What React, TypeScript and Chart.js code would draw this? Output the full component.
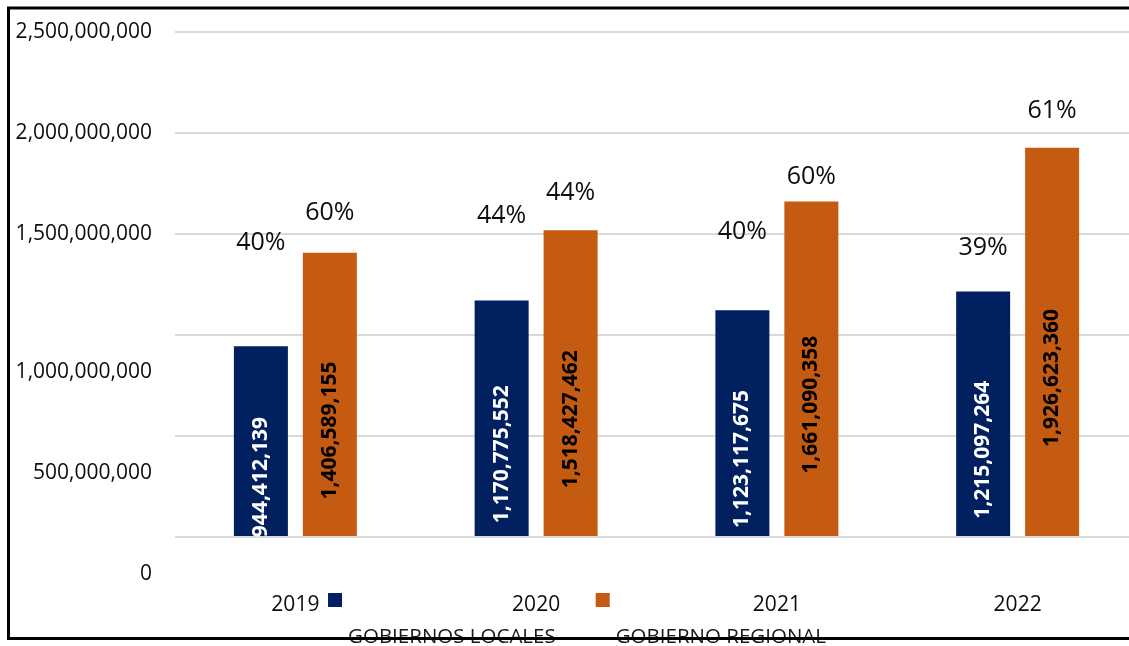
import React, { useEffect, useRef } from 'react';
import { Chart, registerables } from 'chart.js';

Chart.register(...registerables);

// ---------- data ----------
const years = ['2019', '2020', '2021', '2022'];
const seriesNames = ['GOBIERNOS LOCALES', 'GOBIERNO REGIONAL'];
const gobiernosLocales = [944412139, 1170775552, 1123117675, 1215097264];
const gobiernoRegional = [1406589155, 1518427462, 1661090358, 1926623360];
const pctLocales = ['40%', '44%', '40%', '39%'];
const pctRegional = ['60%', '44%', '60%', '61%'];
const yTickValues = [0, 500000000, 1000000000, 1500000000, 2000000000, 2500000000];

// ---------- styles / layout ----------
const COLORS = ['#002060', '#C55A11'];
const LABEL_COLORS = ['#ffffff', '#000000'];
const FONT = "'Open Sans', 'DejaVu Sans', sans-serif";
const TEXT = '#0d0d0d';
const VIEW_W = 1129;
const VIEW_H = 646;
const CANVAS_W = 1140; // plot runs slightly past the visible page, as in the original
const Y_LABEL_SHIFT = 37; // lower tick labels sit below their gridlines in the original
const BAR_LABEL_SHIFT = 36;
const LEGEND_TEXT_SHIFT = 37;
const LEGEND_CENTER = 577;
const PCT_LIFT = [
  [103, 85, 78, 44],
  [40, 37, 25, 37],
];

const fmt = (v: number) => v.toLocaleString('en-US');

const decorPlugin = {
  id: 'decor',
  afterDatasetsDraw(chart: any) {
    const { ctx, chartArea, scales } = chart;
    const ys = scales.y;
    const xs = scales.x;
    ctx.save();

    // y labels
    ctx.fillStyle = TEXT;
    ctx.font = `21px ${FONT}`;
    ctx.textAlign = 'right';
    ctx.textBaseline = 'middle';
    yTickValues.forEach((v) => {
      const y = ys.getPixelForValue(v) + (v < 1500000000 ? Y_LABEL_SHIFT : 0);
      ctx.fillText(fmt(v), chartArea.left - 23, y);
    });

    // x labels
    ctx.textAlign = 'center';
    ctx.font = `21px ${FONT}`;
    years.forEach((yr, i) => {
      ctx.fillText(yr, xs.getPixelForValue(i), chartArea.bottom + 68);
    });

    // bar value labels (rotated) - clipped to plot area
    ctx.save();
    ctx.beginPath();
    ctx.rect(chartArea.left, chartArea.top - 200, chartArea.right - chartArea.left, chartArea.bottom - chartArea.top + 200);
    ctx.clip();
    ctx.font = `bold 21px ${FONT}`;
    chart.data.datasets.forEach((ds: any, di: number) => {
      const meta = chart.getDatasetMeta(di);
      meta.data.forEach((el: any, i: number) => {
        const cy = (el.y + el.base) / 2 + BAR_LABEL_SHIFT;
        ctx.save();
        ctx.translate(el.x, cy);
        ctx.rotate(-Math.PI / 2);
        ctx.fillStyle = LABEL_COLORS[di];
        ctx.textAlign = 'center';
        ctx.textBaseline = 'middle';
        ctx.fillText(fmt(ds.data[i]), 0, 0);
        ctx.restore();
      });
    });
    ctx.restore();

    // percentage labels
    ctx.font = `25px ${FONT}`;
    ctx.fillStyle = TEXT;
    ctx.textAlign = 'center';
    ctx.textBaseline = 'middle';
    const pcts = [pctLocales, pctRegional];
    chart.data.datasets.forEach((_ds: any, di: number) => {
      const meta = chart.getDatasetMeta(di);
      meta.data.forEach((el: any, i: number) => {
        ctx.fillText(pcts[di][i], el.x, el.y - PCT_LIFT[di][i]);
      });
    });

    // legend
    ctx.font = `20.5px ${FONT}`;
    const box = 14;
    const gap = 6;
    const spacing = 40;
    const widths = seriesNames.map((n) => box + gap + ctx.measureText(n).width);
    const total = widths.reduce((a, b) => a + b, 0) + spacing * (widths.length - 1);
    let lx = LEGEND_CENTER - total / 2;
    const boxY = chartArea.bottom + 56;
    seriesNames.forEach((n, i) => {
      ctx.fillStyle = COLORS[i];
      ctx.fillRect(lx, boxY, box, box);
      ctx.fillStyle = '#1a1a1a';
      ctx.textAlign = 'left';
      ctx.textBaseline = 'middle';
      ctx.fillText(n, lx + box + gap, boxY + box / 2 + LEGEND_TEXT_SHIFT);
      lx += widths[i] + spacing;
    });

    // outer frame: top, left and bottom edges (right edge is off the page in the original)
    ctx.strokeStyle = '#000';
    ctx.lineWidth = 3;
    ctx.beginPath();
    ctx.moveTo(chart.width, 8);
    ctx.lineTo(8.5, 8);
    ctx.lineTo(8.5, 638.5);
    ctx.lineTo(chart.width, 638.5);
    ctx.stroke();

    ctx.restore();
  },
};

export default function App() {
  const ref = useRef<HTMLCanvasElement | null>(null);

  useEffect(() => {
    document.body.style.margin = '0';
    if (!ref.current) return;
    const chart = new Chart(ref.current, {
      type: 'bar',
      data: {
        labels: years,
        datasets: [
          {
            label: seriesNames[0],
            data: gobiernosLocales,
            backgroundColor: COLORS[0],
            categoryPercentage: 0.573,
            barPercentage: 0.783,
          },
          {
            label: seriesNames[1],
            data: gobiernoRegional,
            backgroundColor: COLORS[1],
            categoryPercentage: 0.573,
            barPercentage: 0.783,
          },
        ],
      },
      options: {
        animation: false,
        responsive: false,
        maintainAspectRatio: false,
        devicePixelRatio: 1,
        layout: { padding: { left: 175, right: CANVAS_W - 1138, top: 32, bottom: VIEW_H - 537 } },
        plugins: {
          legend: { display: false },
          tooltip: { enabled: false },
        },
        scales: {
          x: { display: false },
          y: {
            min: 0,
            max: 2500000000,
            ticks: { display: false, stepSize: 500000000 },
            border: { display: false },
            grid: { color: '#d9d9d9', lineWidth: 2, drawTicks: false },
          },
        },
      },
      plugins: [decorPlugin],
    });
    return () => chart.destroy();
  }, []);

  return (
    <div style={{ width: VIEW_W, height: VIEW_H, overflow: 'hidden', background: '#fff' }}>
      <canvas
        ref={ref}
        width={CANVAS_W}
        height={VIEW_H}
        style={{ display: 'block', width: CANVAS_W, height: VIEW_H }}
      />
    </div>
  );
}
